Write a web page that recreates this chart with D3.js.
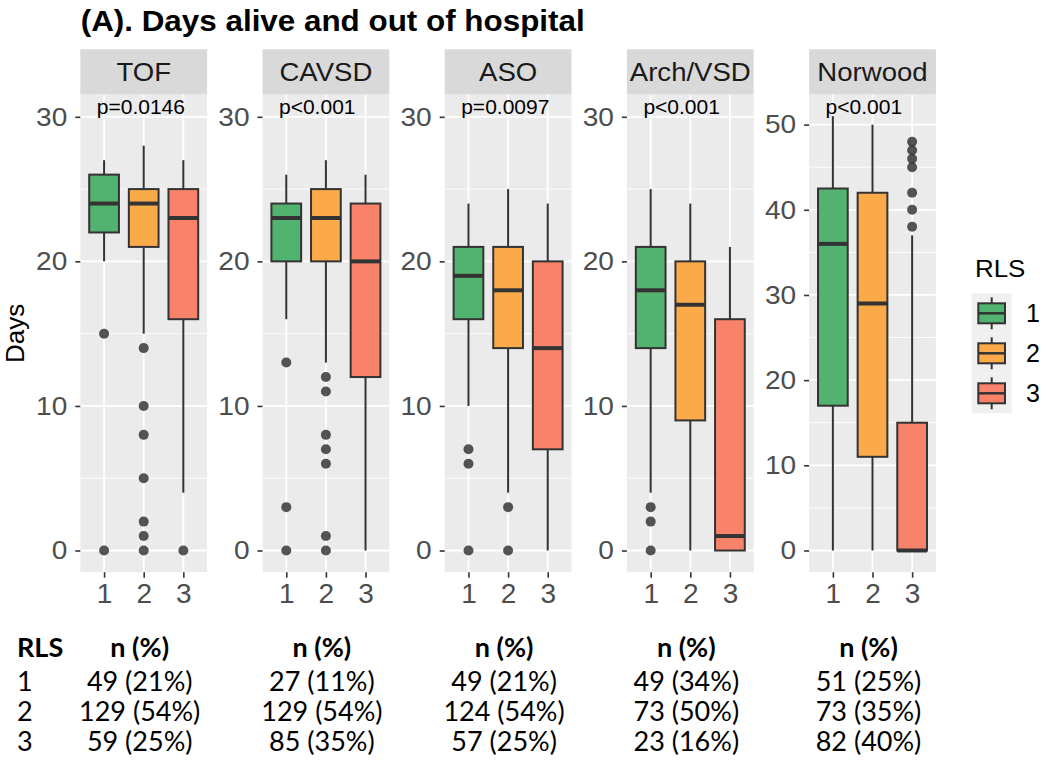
<!DOCTYPE html>
<html>
<head>
<meta charset="utf-8">
<script src="https://cdn.jsdelivr.net/npm/d3@7"></script>
<style>
  html, body { margin: 0; padding: 0; background: #ffffff; }
  svg { display: block; }
</style>
</head>
<body>
<svg id="chart" width="1050" height="765"></svg>
<script>
// ---------------- DATA ----------------
const facets = ["TOF", "CAVSD", "ASO", "Arch/VSD", "Norwood"];
const pLabels = ["p=0.0146", "p<0.001", "p=0.0097", "p<0.001", "p<0.001"];
const groups = ["1", "2", "3"];
const groupColors = ["#52B26F", "#FBAA4A", "#F9836A"];

// box stats per group: [lowerWhisker, q1, median, q3, upperWhisker]
const tofBoxes     = [[20, 22, 24, 26, 27], [15, 21, 24, 25, 28], [4, 16, 23, 25, 27]];
const cavsdBoxes   = [[16, 20, 23, 24, 26], [13, 20, 23, 25, 27], [0, 12, 20, 24, 26]];
const asoBoxes     = [[10, 16, 19, 21, 24], [4, 14, 18, 21, 25], [0, 7, 14, 20, 24]];
const archBoxes    = [[4, 14, 18, 21, 25], [0, 9, 17, 20, 24], [0, 0, 1, 16, 21]];
const norwoodBoxes = [[0, 17, 36, 42.5, 51], [0, 11, 29, 42, 50], [0, 0, 0, 15, 37]];

// outliers per group
const tofOutliers     = [[15, 0], [14, 10, 8, 5, 2, 1, 0], [0]];
const cavsdOutliers   = [[13, 3, 0], [12, 11, 8, 7, 6, 1, 0], []];
const asoOutliers     = [[7, 6, 0], [3, 0], []];
const archOutliers    = [[3, 2, 0], [], []];
const norwoodOutliers = [[], [], [48, 47, 46, 45, 42, 40, 38]];

const shortTicks = [0, 10, 20, 30];
const longTicks = [0, 10, 20, 30, 40, 50];
const shortMinor = [5, 15, 25];
const longMinor = [5, 15, 25, 35, 45];
const shortDomain = [-1.5, 31.55];
const longDomain = [-2.55, 53.55];

// table below the chart
const tableRowLabels = ["1", "2", "3"];
const tofN     = ["49 (21%)", "129 (54%)", "59 (25%)"];
const cavsdN   = ["27 (11%)", "129 (54%)", "85 (35%)"];
const asoN     = ["49 (21%)", "124 (54%)", "57 (25%)"];
const archN    = ["49 (34%)", "73 (50%)", "23 (16%)"];
const norwoodN = ["51 (25%)", "73 (35%)", "82 (40%)"];

const boxSets = [tofBoxes, cavsdBoxes, asoBoxes, archBoxes, norwoodBoxes];
const outlierSets = [tofOutliers, cavsdOutliers, asoOutliers, archOutliers, norwoodOutliers];
const tickSets = [shortTicks, shortTicks, shortTicks, shortTicks, longTicks];
const minorSets = [shortMinor, shortMinor, shortMinor, shortMinor, longMinor];
const domainSets = [shortDomain, shortDomain, shortDomain, shortDomain, longDomain];
const tableCols = [tofN, cavsdN, asoN, archN, norwoodN];

// ---------------- LAYOUT ----------------
const FONT = "'Liberation Sans', Arial, Helvetica, sans-serif";
const TFONT = "Lato, 'Liberation Sans', sans-serif";
const panelX0 = 80.3, panelStep = 182.2, panelW = 126.8;
const stripTop = 49.3, panelTop = 94.4, panelBottom = 572.2;

const svg = d3.select("#chart");

// horizontal stretch helper (keeps anchor position)
function stretch(sel, sx) {
  sel.each(function () {
    const t = d3.select(this);
    const ax = +t.attr("x") || 0;
    const prev = t.attr("transform") || "";
    t.attr("transform", `${prev} translate(${ax},0) scale(${sx},1) translate(${-ax},0)`);
  });
}

// title
svg.append("text")
  .attr("x", 80.7).attr("y", 31)
  .attr("font-family", FONT).attr("font-weight", "bold").attr("font-size", 30)
  .attr("textLength", 504).attr("lengthAdjust", "spacingAndGlyphs")
  .attr("fill", "#000")
  .text("(A). Days alive and out of hospital");

// y axis title
svg.append("text")
  .attr("transform", `translate(24, ${(panelTop + panelBottom) / 2}) rotate(-90)`)
  .attr("text-anchor", "middle")
  .attr("font-family", FONT).attr("font-size", 26).attr("fill", "#000")
  .text("Days");

facets.forEach((name, i) => {
  const x0 = panelX0 + i * panelStep;
  const g = svg.append("g");
  const x = d3.scalePoint().domain(groups).range([x0, x0 + panelW]).padding(0.6);
  const y = d3.scaleLinear().domain(domainSets[i]).range([panelBottom, panelTop]);
  const bw = x.step() * 0.75;

  // panel background
  g.append("rect").attr("x", x0).attr("y", panelTop).attr("width", panelW)
    .attr("height", panelBottom - panelTop).attr("fill", "#EBEBEB");
  // minor grid
  g.selectAll(".minor").data(minorSets[i]).enter().append("line")
    .attr("x1", x0).attr("x2", x0 + panelW)
    .attr("y1", d => y(d)).attr("y2", d => y(d))
    .attr("stroke", "#fff").attr("stroke-width", 0.9);
  // major grid
  g.selectAll(".major").data(tickSets[i]).enter().append("line")
    .attr("x1", x0).attr("x2", x0 + panelW)
    .attr("y1", d => y(d)).attr("y2", d => y(d))
    .attr("stroke", "#fff").attr("stroke-width", 1.8);
  g.selectAll(".vmajor").data(groups).enter().append("line")
    .attr("x1", d => x(d)).attr("x2", d => x(d))
    .attr("y1", panelTop).attr("y2", panelBottom)
    .attr("stroke", "#fff").attr("stroke-width", 1.8);

  // strip
  g.append("rect").attr("x", x0).attr("y", stripTop).attr("width", panelW)
    .attr("height", panelTop - stripTop).attr("fill", "#D9D9D9");
  const st = g.append("text").attr("x", x0 + panelW / 2).attr("y", 81)
    .attr("text-anchor", "middle").attr("font-family", FONT).attr("font-size", 26)
    .attr("fill", "#1A1A1A").text(name);
  stretch(st, 1.06);

  // boxes
  boxSets[i].forEach((s, j) => {
    const cx = x(groups[j]);
    const [lo, q1, med, q3, hi] = s;
    g.append("line").attr("x1", cx).attr("x2", cx).attr("y1", y(hi)).attr("y2", y(q3))
      .attr("stroke", "#333").attr("stroke-width", 2);
    g.append("line").attr("x1", cx).attr("x2", cx).attr("y1", y(q1)).attr("y2", y(lo))
      .attr("stroke", "#333").attr("stroke-width", 2);
    g.append("rect").attr("x", cx - bw / 2).attr("width", bw)
      .attr("y", y(q3)).attr("height", Math.max(0, y(q1) - y(q3)))
      .attr("fill", groupColors[j]).attr("stroke", "#333").attr("stroke-width", 2);
    g.append("line").attr("x1", cx - bw / 2).attr("x2", cx + bw / 2)
      .attr("y1", y(med)).attr("y2", y(med))
      .attr("stroke", "#333").attr("stroke-width", 4);
    g.selectAll(null).data(outlierSets[i][j]).enter().append("circle")
      .attr("cx", cx).attr("cy", d => y(d)).attr("r", 5)
      .attr("fill", "#1E1E1E").attr("fill-opacity", 0.75);
  });

  // p label
  g.append("text").attr("x", x0 + 16.5).attr("y", 113.5)
    .attr("font-family", FONT).attr("font-size", 21).attr("fill", "#000")
    .text(pLabels[i]);

  // y axis
  const ya = g.append("g").attr("transform", `translate(${x0},0)`)
    .call(d3.axisLeft(y).tickValues(tickSets[i]).tickSize(5).tickPadding(8));
  ya.select(".domain").remove();
  ya.selectAll("line").attr("stroke", "#333").attr("stroke-width", 1.6);
  const yt = ya.selectAll("text").attr("font-family", FONT).attr("font-size", 26).attr("fill", "#4D4D4D");
  stretch(yt, 1.08);

  // x axis
  const xa = g.append("g").attr("transform", `translate(0,${panelBottom})`)
    .call(d3.axisBottom(x).tickSize(5.5).tickPadding(5));
  xa.select(".domain").remove();
  xa.selectAll("line").attr("stroke", "#333").attr("stroke-width", 1.6);
  xa.selectAll("text").attr("font-family", FONT).attr("font-size", 28).attr("fill", "#4D4D4D");

  // table column
  const tcx = x0 + panelW / 2 - 4;
  svg.append("text").attr("x", tcx).attr("y", 657).attr("text-anchor", "middle")
    .attr("font-family", TFONT).attr("font-weight", "bold").attr("font-size", 27)
    .attr("fill", "#000").text("n (%)");
  tableCols[i].forEach((t, r) => {
    svg.append("text").attr("x", tcx).attr("y", 690.5 + r * 30.3).attr("text-anchor", "middle")
      .attr("font-family", TFONT).attr("font-size", 27).attr("fill", "#000").text(t);
  });
});

// table row labels
svg.append("text").attr("x", 17).attr("y", 657)
  .attr("font-family", TFONT).attr("font-weight", "bold").attr("font-size", 27)
  .attr("fill", "#000").text("RLS");
tableRowLabels.forEach((t, r) => {
  svg.append("text").attr("x", 17).attr("y", 690.5 + r * 30.3)
    .attr("font-family", TFONT).attr("font-size", 27).attr("fill", "#000").text(t);
});

// legend
const lg = svg.append("g");
const lt = lg.append("text").attr("x", 975).attr("y", 277)
  .attr("font-family", FONT).attr("font-size", 24).attr("fill", "#000").text("RLS");
stretch(lt, 1.08);
groups.forEach((gname, j) => {
  const ky = 293.3 + j * 40;
  lg.append("rect").attr("x", 971.7).attr("y", ky).attr("width", 40).attr("height", 40)
    .attr("fill", "#F0F0F0");
  const cx = 991.7;
  lg.append("line").attr("x1", cx).attr("x2", cx).attr("y1", ky + 4).attr("y2", ky + 36)
    .attr("stroke", "#333").attr("stroke-width", 2);
  lg.append("rect").attr("x", 978.3).attr("y", ky + 10).attr("width", 26.7).attr("height", 20)
    .attr("fill", groupColors[j]).attr("stroke", "#333").attr("stroke-width", 2);
  lg.append("line").attr("x1", 978.3).attr("x2", 1005).attr("y1", ky + 20).attr("y2", ky + 20)
    .attr("stroke", "#333").attr("stroke-width", 2.5);
  lg.append("text").attr("x", 1026).attr("y", ky + 20).attr("dy", "0.36em")
    .attr("font-family", FONT).attr("font-size", 25).attr("fill", "#000").text(gname);
});
</script>
</body>
</html>
